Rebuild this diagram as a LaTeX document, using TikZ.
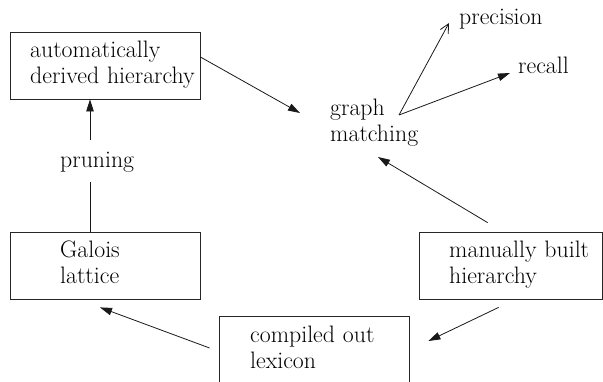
\documentclass[tikz,border=0pt]{standalone}
\usetikzlibrary{arrows.meta,calc}
\begin{document}
\begin{tikzpicture}[x=1pt,y=-1pt,
  box/.style={draw=black!85,line width=0.8pt,inner sep=0pt,minimum width=190pt,minimum height=67pt},
  lbl/.style={inner sep=0pt,anchor=base west,align=left,text width=220pt,
    font=\fontsize{23.8}{26}\selectfont},
  conn/.style={draw=black!90,line width=0.8pt},
  arr/.style={conn,-{Triangle[length=12pt,width=7.5pt]}},
  openarr/.style={conn,-{Straight Barb[length=9pt,width=9pt,line width=0.8pt]}}]
\useasboundingbox (0,0) rectangle (603,381);
% boxes
\node[box] (aB) at (105,65.5) {};
\node[box] (gB) at (105,265.5) {};
\node[box] (cB) at (314,349.5) {};
\node[box,minimum width=183.5pt] (mB) at (510.75,265.5) {};
% texts
\node[lbl] (at) at (30,57) {automatically\\derived hierarchy};
\node[lbl] (gl) at (60,257) {Galois\\lattice};
\node[lbl] (co) at (250,342) {compiled out\\lexicon};
\node[lbl] (ma) at (449,257) {manually built\\hierarchy};
\node[lbl] (gm) at (330,115) {graph\\matching};
\node[lbl,text width=110pt] (pr) at (459,24) {precision};
\node[lbl,text width=80pt] (re) at (518,73) {recall};
\node[lbl,text width=80pt] (pu) at (60,167) {pruning};
% connectors
\draw[arr] ($(aB.east)+(0,-8.5)$) -- ($(gm.base west)+(-30,-2)$);
\draw[openarr] ($(gm.base west)+(69,0)$) -- ($(pr.base west)+(-10,-1)$);
\draw[arr] ($(gm.base west)+(69,0)$) -- ($(re.base west)+(-8,0)$);
\draw[arr] ($(mB.north west)+(69,-9)$) -- ($(gm.base west)+(48,42)$);
\draw[arr] ($(mB.south west)+(80,8)$) -- ($(cB.east)+(19,-8.5)$);
\draw[arr] ($(cB.west)+(-9,-1.5)$) -- ($(gB.south)+(-5,8)$);
\draw[arr] ($(pu.base west)+(30,-27)$) -- ($(aB.south)+(-15,0)$);
\draw[conn] ($(gB.north)+(-15,0)$) -- ($(pu.base west)+(30,15)$);
\end{tikzpicture}
\end{document}
